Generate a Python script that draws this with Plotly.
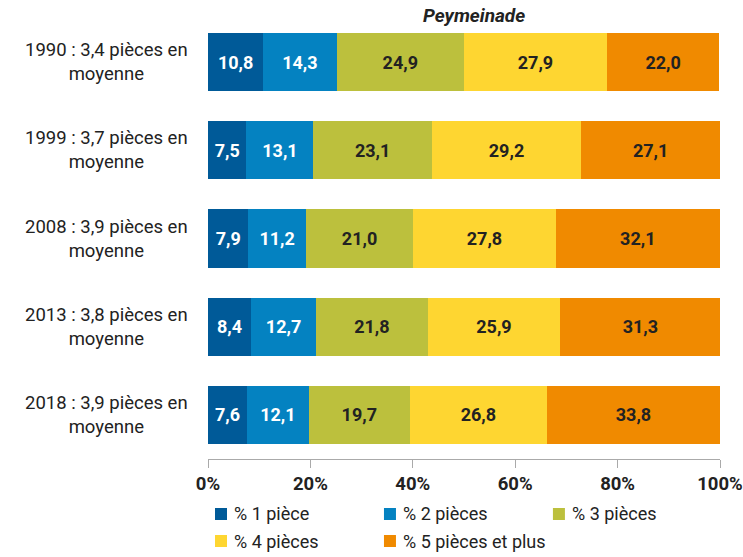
import plotly.graph_objects as go

# Data
years = ["1990", "1999", "2008", "2013", "2018"]
avg_rooms = ["3,4", "3,7", "3,9", "3,8", "3,9"]
series_names = ["% 1 pièce", "% 2 pièces", "% 3 pièces", "% 4 pièces", "% 5 pièces et plus"]
pct_1 = [10.8, 7.5, 7.9, 8.4, 7.6]
pct_2 = [14.3, 13.1, 11.2, 12.7, 12.1]
pct_3 = [24.9, 23.1, 21.0, 21.8, 19.7]
pct_4 = [27.9, 29.2, 27.8, 25.9, 26.8]
pct_5 = [22.0, 27.1, 32.1, 31.3, 33.8]
x_ticks = [0, 20, 40, 60, 80, 100]

colors = ["#005a98", "#0482c1", "#bcc03d", "#fed631", "#f08a00"]
text_colors = ["white", "white", "#222222", "#222222", "#222222"]
FONT = "Roboto, 'Open Sans', sans-serif"

fig = go.Figure()

for name, vals, col, tcol in zip(series_names, [pct_1, pct_2, pct_3, pct_4, pct_5], colors, text_colors):
    fig.add_trace(
        go.Bar(
            y=years,
            x=vals,
            name=name,
            orientation="h",
            marker=dict(color=col, line_width=0),
            text=[f"{v:.1f}".replace(".", ",") for v in vals],
            textposition="inside",
            insidetextanchor="middle",
            textangle=0,
            textfont=dict(family=FONT, size=18, color=tcol, weight="bold"),
            showlegend=False,
        )
    )

# Centered two-line category labels (category index positions)
for i, (yr, avg) in enumerate(zip(years, avg_rooms)):
    fig.add_annotation(
        x=-0.035, xref="paper",
        y=i, yref="y",
        text=f"{yr} : {avg} pièces en<br>moyenne",
        showarrow=False,
        xanchor="right",
        align="center",
        font=dict(family=FONT, size=18.5, color="#222222"),
    )

fig.add_annotation(
    x=0.52, xref="paper", y=1.0, yref="paper",
    yanchor="middle", yshift=3,
    text="<b><i>Peymeinade</i></b>",
    showarrow=False,
    font=dict(family=FONT, size=19, color="#222222"),
)

# Legend drawn as swatches + annotations (3 columns, 2 rows)
leg_x = [0.0, 0.33, 0.66, 0.0, 0.33]
leg_y = [-0.1247, -0.1247, -0.1247, -0.186, -0.186]
for name, col, lx, ly in zip(series_names, colors, leg_x, leg_y):
    fig.add_shape(
        type="rect",
        xref="paper", yref="paper",
        xsizemode="pixel", ysizemode="pixel",
        xanchor=lx + 0.0254, yanchor=ly,
        x0=-6, x1=6, y0=-6, y1=6,
        fillcolor=col, line_width=0,
    )
    fig.add_annotation(
        x=lx + 0.047, xref="paper", y=ly, yref="paper",
        xanchor="left", yanchor="middle",
        text=name,
        showarrow=False,
        font=dict(family=FONT, size=18, color="#222222"),
    )

fig.update_layout(
    barmode="stack",
    bargap=0.34,
    width=743,
    height=557,
    margin=dict(l=208, r=23, t=18, b=98),
    paper_bgcolor="white",
    plot_bgcolor="white",
    font=dict(family=FONT, color="#222222"),
    xaxis=dict(
        range=[0, 100],
        tickvals=x_ticks,
        ticktext=[f"{t}%" for t in x_ticks],
        tickfont=dict(family=FONT, size=18.5, color="#222222", weight="bold"),
        ticklabeloverflow="allow",
        automargin=False,
        showgrid=False,
        zeroline=False,
        showline=True,
        linecolor="#aaaaaa",
        linewidth=1,
        ticks="outside",
        ticklen=8,
        tickcolor="#aaaaaa",
    ),
    yaxis=dict(
        type="category",
        autorange="reversed",
        automargin=False,
        showticklabels=False,
        showgrid=False,
        zeroline=False,
        showline=False,
    ),
    showlegend=False,
)

# drop the default 8px body margin so the 743x557 figure fills the window
fig.write_html(
    "out.html",
    config={"displayModeBar": False},
    post_script="document.body.style.margin='0px';document.body.style.overflow='hidden';",
)
